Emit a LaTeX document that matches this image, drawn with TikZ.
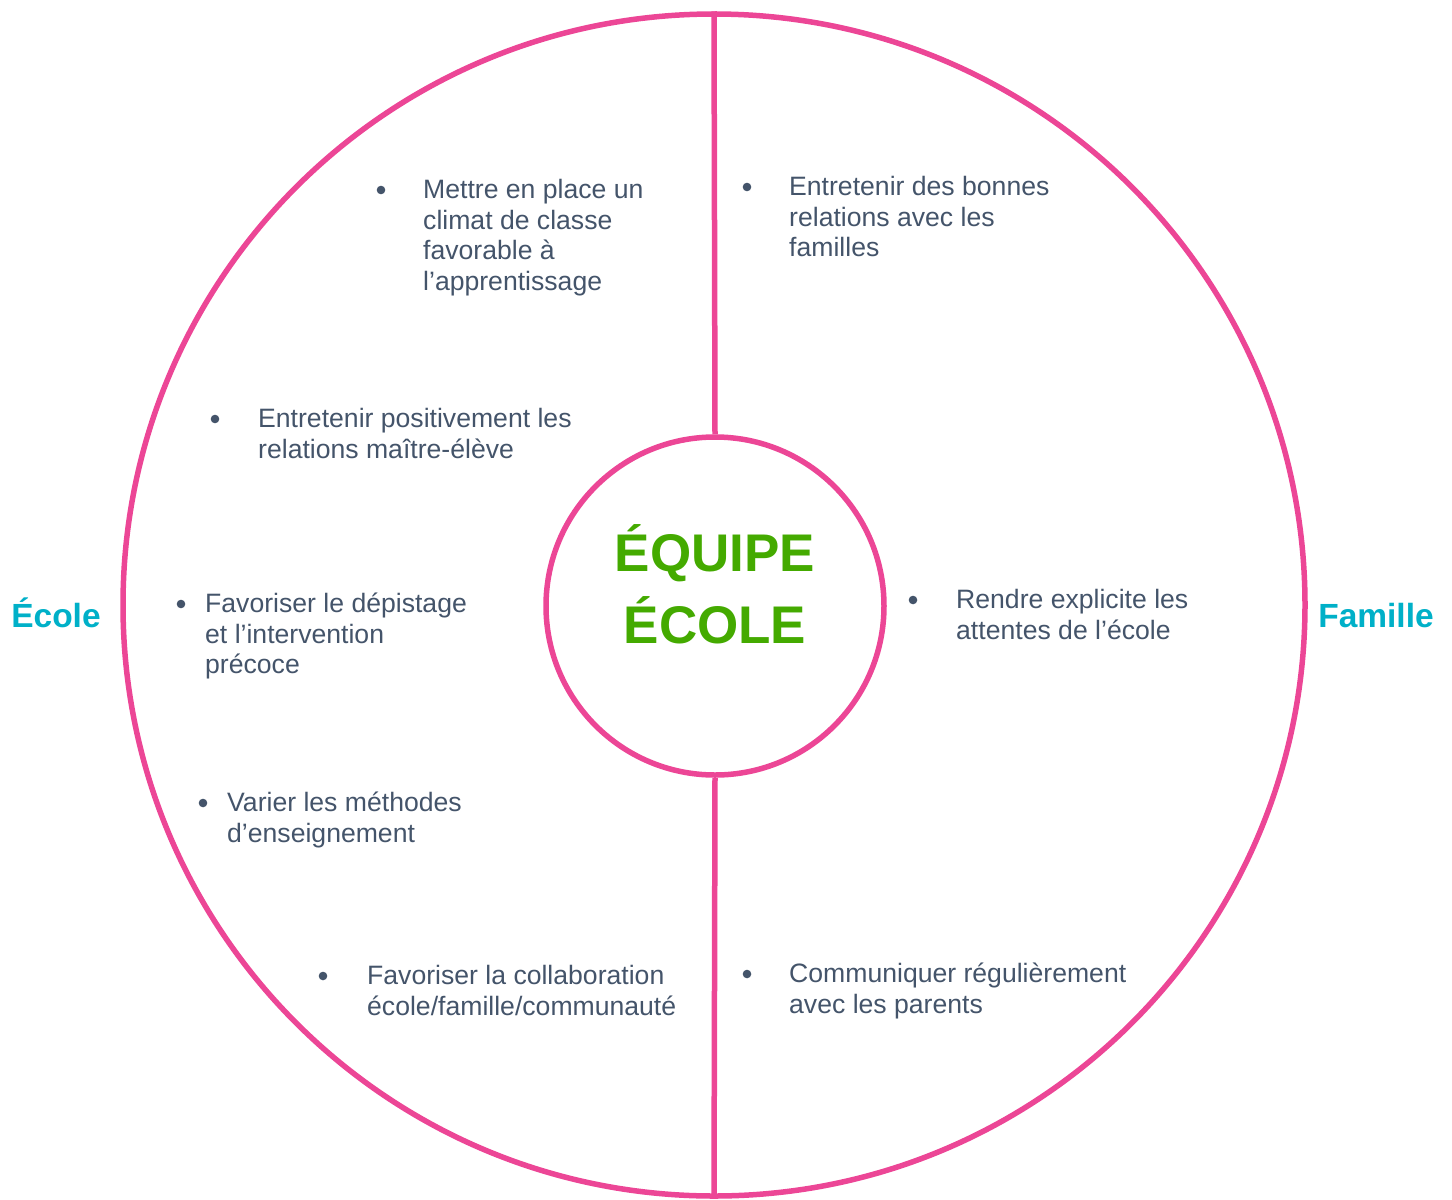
\documentclass[tikz,border=0pt]{standalone}
\usepackage{fontspec}
\setmainfont{Liberation Sans}
\definecolor{pinkline}{RGB}{236,70,150}
\definecolor{txtgray}{RGB}{68,84,106}
\definecolor{cyanlbl}{RGB}{0,176,200}
\definecolor{greentitle}{RGB}{68,170,0}
\newcommand{\itemlines}[1]{\parbox[t]{420pt}{\raggedright #1}}
\begin{document}
\begin{tikzpicture}[x=1pt,y=-1pt,
  ring/.style={circle, draw=pinkline, line width=5.5pt, inner sep=0pt},
  divider/.style={draw=pinkline, line width=5.5pt},
  itemtext/.style={anchor=base west, inner sep=0pt, text=txtgray,
     font=\fontsize{26.6}{30.7}\selectfont},
  dot/.style={circle, fill=txtgray, inner sep=0pt, minimum size=8.6pt},
  titletext/.style={anchor=base, inner sep=0pt, text=greentitle,
     font=\fontsize{53}{72}\selectfont\bfseries},
  sidelabel/.style={anchor=base, inner sep=0pt, text=cyanlbl,
     font=\fontsize{33.5}{40}\selectfont\bfseries}]
\useasboundingbox (0,0) rectangle (1452,1200);
% circles
\node[ring, minimum size=1182pt] (outer) at (714,605) {};
\node[ring, minimum size=338pt, fill=white] (inner) at (715,606) {};
\draw[divider] (outer.north) -- (inner.north);
\draw[divider] (inner.south) -- (outer.south);
% title
\node[titletext] (title1) at (715,571) {ÉQUIPE};
\node[titletext] (title2) at (715,643) {ÉCOLE};
% side labels
\node[sidelabel] (ecole) at (56,627) {École};
\node[sidelabel] (famille) at (1376,627) {Famille};
% items
\node[dot] (b1) at (381,190) {};
\node[itemtext] (t1) at (423,198.5) {\itemlines{Mettre en place un\\climat de classe\\favorable à\\l’apprentissage}};
\node[dot] (b2) at (747,187) {};
\node[itemtext] (t2) at (789,195.5) {\itemlines{Entretenir des bonnes\\relations avec les\\familles}};
\node[dot] (b3) at (215,419) {};
\node[itemtext] (t3) at (258,427.5) {\itemlines{Entretenir positivement les\\relations maître-élève}};
\node[dot] (b4) at (913,600) {};
\node[itemtext] (t4) at (956,608.5) {\itemlines{Rendre explicite les\\attentes de l’école}};
\node[dot] (b5) at (181,604) {};
\node[itemtext] (t5) at (205,612.5) {\itemlines{Favoriser le dépistage\\et l’intervention\\précoce}};
\node[dot] (b6) at (203,803) {};
\node[itemtext] (t6) at (227,811.5) {\itemlines{Varier les méthodes\\d’enseignement}};
\node[dot] (b7) at (323,976) {};
\node[itemtext] (t7) at (367,984.5) {\itemlines{Favoriser la collaboration\\école/famille/communauté}};
\node[dot] (b8) at (747,974) {};
\node[itemtext] (t8) at (789,982.5) {\itemlines{Communiquer régulièrement\\avec les parents}};
\end{tikzpicture}
\end{document}
